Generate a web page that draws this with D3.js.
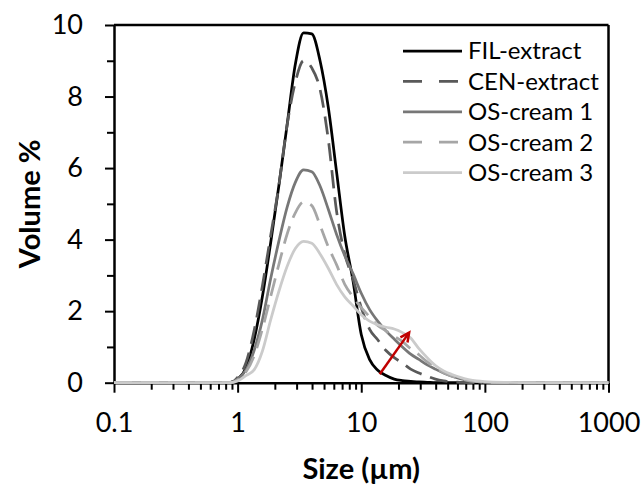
<!DOCTYPE html>
<html><head><meta charset="utf-8">
<script src="https://cdn.jsdelivr.net/npm/d3@7"></script>
<style>
body{margin:0;background:#fff}
svg{display:block}
text{font-family:Lato,"Open Sans",sans-serif;fill:#000}
</style>
</head><body>
<svg id="c" width="643" height="484"></svg>
<script>
// Particle size bins (µm)
const sizes = [0.1, 0.3, 0.736, 0.858, 1.0, 1.166, 1.359, 1.585, 1.848, 2.154, 2.512, 2.929, 3.415, 3.981,
  4.642, 5.412, 6.31, 7.356, 8.577, 10, 11.66, 13.59, 15.85, 18.48, 21.54, 25.12, 29.29, 34.15, 39.81,
  46.42, 54.12, 63.1, 73.56, 85.77, 100, 150, 300, 1000];

const filExtract = [0, 0, 0, 0, 0.1, 0.4, 1.2, 2.4, 3.9, 5.5, 7.2, 8.9, 9.78, 9.75,
  9.0, 7.7, 5.9, 4.1, 2.85, 1.35, 0.65, 0.35, 0.2, 0.1, 0.06, 0.04, 0.02, 0.01, 0,
  0, 0, 0, 0, 0, 0, 0, 0, 0];

const cenExtract = [0, 0, 0, 0, 0.15, 0.55, 1.45, 2.7, 4.1, 5.5, 7.2, 8.4, 9.0, 8.8,
  8.2, 6.8, 4.8, 3.6, 2.9, 2.1, 1.5, 1.2, 0.9, 0.7, 0.55, 0.38, 0.27, 0.18, 0.1,
  0.05, 0.02, 0.01, 0, 0, 0, 0, 0, 0];

const osCream1 = [0, 0, 0, 0, 0.1, 0.35, 0.9, 1.75, 2.9, 3.95, 4.9, 5.6, 5.95, 5.9,
  5.5, 4.85, 4.15, 3.55, 3.05, 2.5, 2.05, 1.72, 1.45, 1.22, 1.0, 0.8, 0.65, 0.5, 0.38,
  0.27, 0.18, 0.11, 0.06, 0.03, 0.01, 0, 0, 0];

const osCream2 = [0, 0, 0, 0, 0.08, 0.3, 0.75, 1.5, 2.4, 3.3, 4.15, 4.75, 5.05, 4.95,
  4.4, 3.8, 3.3, 2.75, 2.4, 2.1, 1.85, 1.6, 1.45, 1.3, 1.15, 0.95, 0.78, 0.58, 0.42,
  0.28, 0.18, 0.11, 0.06, 0.03, 0.01, 0, 0, 0];

const osCream3 = [0, 0, 0, 0, 0.05, 0.2, 0.36, 0.88, 1.75, 2.55, 3.25, 3.75, 3.95, 3.9,
  3.6, 3.2, 2.75, 2.4, 2.15, 1.9, 1.72, 1.62, 1.55, 1.5, 1.4, 1.25, 0.95, 0.7, 0.48,
  0.33, 0.23, 0.15, 0.09, 0.05, 0.03, 0.01, 0, 0];

const seriesNames = ["FIL-extract", "CEN-extract", "OS-cream 1", "OS-cream 2", "OS-cream 3"];
const seriesValues = [filExtract, cenExtract, osCream1, osCream2, osCream3];
const seriesColors = ["#000000", "#595959", "#777777", "#a6a6a6", "#cbcbcb"];
const seriesDashed = [false, true, false, true, false];

const yTicks = [0, 2, 4, 6, 8, 10];
const yMinorTicks = [1, 3, 5, 7, 9];
const xTicks = [0.1, 1, 10, 100, 1000];
const xTickLabels = ["0.1", "1", "10", "100", "1000"];

const xTitle = "Size (µm)";
const yTitle = "Volume %";

// red arrow, in data units [size, volume]
const arrowFrom = [14.1, 0.235];
const arrowTo = [24.4, 1.40];

const svg = d3.select("#c");
const L = 114, R = 608.5, T = 25, B = 382.7;
const x = d3.scaleLog().domain([0.1, 1000]).range([L, R]);
const y = d3.scaleLinear().domain([0, 10]).range([B, T]);

// Minor ticks
const xMinor = x.ticks().filter(v => !xTicks.some(t => Math.abs(t - v) / t < 1e-6));

const gx = svg.append("g").attr("transform", `translate(0,${B})`);
gx.call(d3.axisBottom(x).tickValues(xMinor).tickSize(7).tickSizeOuter(0).tickFormat(""));
gx.call(g => g.selectAll(".tick line").attr("stroke-width", 2));
const gx2 = svg.append("g").attr("transform", `translate(0,${B})`);
gx2.call(d3.axisBottom(x).tickValues(xTicks).tickSize(10).tickSizeOuter(0)
  .tickFormat((d, i) => xTickLabels[i]).tickPadding(20));
gx2.selectAll(".tick line").attr("stroke-width", 2);
gx2.selectAll("text").attr("font-size", 27).attr("font-family", "Lato").attr("fill", "#000");
gx2.select(".domain").remove();
gx.select(".domain").attr("stroke-width", 2.5);

const gy = svg.append("g").attr("transform", `translate(${L},0)`);
gy.call(d3.axisLeft(y).tickValues(yMinorTicks).tickSize(7).tickSizeOuter(0).tickFormat(""));
gy.selectAll(".tick line").attr("stroke-width", 2);
gy.select(".domain").attr("stroke-width", 2.5);
const gy2 = svg.append("g").attr("transform", `translate(${L},0)`);
gy2.call(d3.axisLeft(y).tickValues(yTicks).tickSize(9).tickSizeOuter(0).tickPadding(22));
gy2.selectAll(".tick line").attr("stroke-width", 2);
gy2.selectAll("text").attr("font-size", 27).attr("font-family", "Lato").attr("fill", "#000");
gy2.select(".domain").remove();

// Frame (top and right)
svg.append("line").attr("x1", L).attr("x2", R).attr("y1", T).attr("y2", T)
  .attr("stroke", "#000").attr("stroke-width", 2.5);
svg.append("line").attr("x1", R).attr("x2", R).attr("y1", T).attr("y2", B)
  .attr("stroke", "#000").attr("stroke-width", 2.5);

// Series
const line = d3.line().x(d => x(d[0])).y(d => y(d[1])).curve(d3.curveMonotoneX);
seriesValues.forEach((vals, i) => {
  const pts = sizes.map((s, j) => [s, vals[j]]);
  svg.append("path").attr("d", line(pts)).attr("fill", "none")
    .attr("stroke", seriesColors[i]).attr("stroke-width", 2.75)
    .attr("stroke-linejoin", "round")
    .attr("stroke-dasharray", seriesDashed[i] ? "18,9" : null);
});

// Red arrow
const ax1 = x(arrowFrom[0]), ay1 = y(arrowFrom[1]), ax2 = x(arrowTo[0]), ay2 = y(arrowTo[1]);
svg.append("line").attr("x1", ax1).attr("y1", ay1).attr("x2", ax2).attr("y2", ay2)
  .attr("stroke", "#c00000").attr("stroke-width", 2.5);
const ang = Math.atan2(ay2 - ay1, ax2 - ax1);
const hl = 10, ha = 0.45;
svg.append("path")
  .attr("d", `M${ax2 - hl * Math.cos(ang - ha)},${ay2 - hl * Math.sin(ang - ha)} L${ax2},${ay2} L${ax2 - hl * Math.cos(ang + ha)},${ay2 - hl * Math.sin(ang + ha)}`)
  .attr("fill", "none").attr("stroke", "#c00000").attr("stroke-width", 2.5).attr("stroke-linejoin", "miter");

// Legend
const lg = svg.append("g");
seriesNames.forEach((n, i) => {
  const yy = 51 + i * 30.4;
  lg.append("line").attr("x1", 403).attr("x2", 462).attr("y1", yy).attr("y2", yy)
    .attr("stroke", seriesColors[i]).attr("stroke-width", 2.75)
    .attr("stroke-dasharray", seriesDashed[i] ? "19,17" : null);
  lg.append("text").attr("x", 468).attr("y", yy).attr("dy", "0.35em")
    .attr("font-size", 24).text(n);
});

// Axis titles
svg.append("text").attr("x", (L + R) / 2).attr("y", 479).attr("text-anchor", "middle")
  .attr("font-size", 29).attr("font-weight", "bold").text(xTitle);
svg.append("text").attr("transform", `translate(40,${(T + B) / 2}) rotate(-90)`)
  .attr("text-anchor", "middle").attr("font-size", 29).attr("font-weight", "bold").text(yTitle);
</script>
</body></html>
